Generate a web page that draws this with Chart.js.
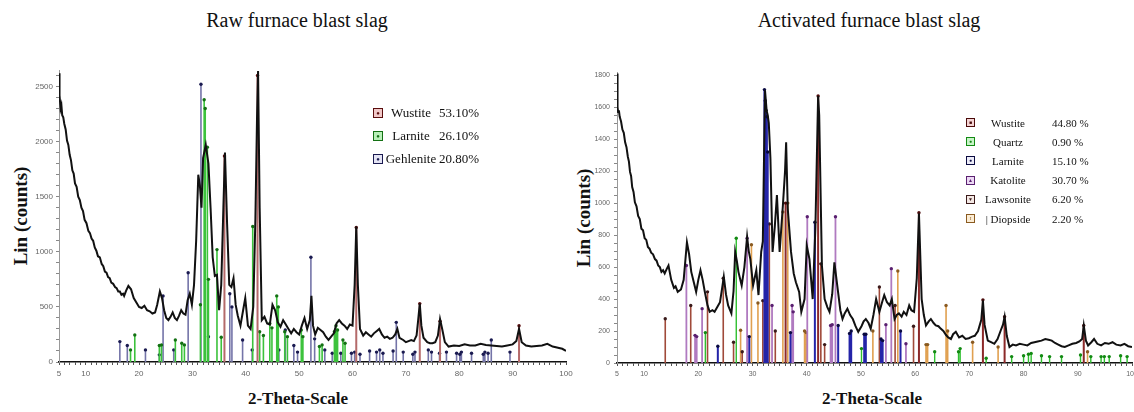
<!DOCTYPE html>
<html>
<head>
<meta charset="utf-8">
<script src="https://cdn.jsdelivr.net/npm/chart.js@4.4.1/dist/chart.umd.min.js"></script>
<style>
  body { margin: 0; background: #fff; width: 1134px; height: 412px; position: relative; overflow: hidden;
         font-family: 'Liberation Serif', 'Times New Roman', serif; color: #111; }
  .panel { position: absolute; top: 0; height: 412px; }
  .panel canvas { position: absolute; left: 0; top: 0; }
  .title { position: absolute; top: 9px; font-size: 20px; white-space: nowrap; transform: translateX(-50%); }
  .xtitle { position: absolute; top: 389px; font-size: 17px; font-weight: bold; white-space: nowrap; transform: translateX(-50%); }
  .ytitle { position: absolute; font-size: 19px; font-weight: bold; white-space: nowrap; transform: translate(-50%, -50%) rotate(-90deg); }
  .legend { position: absolute; }
  .row { position: absolute; left: 0; display: flex; align-items: center; white-space: nowrap; }
  .icon { box-sizing: border-box; border: 1.5px solid; display: flex; align-items: center; justify-content: center; line-height: 1; }
  .name { text-align: center; }
</style>
</head>
<body>

<div class="title" style="left:297px">Raw furnace blast slag</div>
<div class="title" style="left:869px">Activated furnace blast slag</div>
<div class="ytitle" style="left:21px;top:216px">Lin (counts)</div>
<div class="ytitle" style="left:584px;top:218px">Lin (counts)</div>
<div class="xtitle" style="left:298px">2-Theta-Scale</div>
<div class="xtitle" style="left:872px">2-Theta-Scale</div>

<div class="panel" style="left:0;width:590px"><canvas id="raw" width="590" height="412"></canvas></div>
<div class="panel" style="left:567px;width:567px"><canvas id="act" width="567" height="412"></canvas></div>

<div class="legend" id="rawLegend" style="left:373px;top:101px"></div>
<div class="legend" id="actLegend" style="left:966px;top:113px"></div>

<script>
// axis tick labels
const xTicks = [5, 10, 20, 30, 40, 50, 60, 70, 80, 90, 100];
const rawYTicks = [0, 500, 1000, 1500, 2000, 2500];
const actYTicks = [0, 200, 400, 600, 800, 1000, 1200, 1400, 1600, 1800];

// raw slag scan [2theta, counts]
const rawScan = [
  [5.0,2620],[5.1,2420],[5.3,2300],[5.45,2330],[5.6,2240],[5.8,2220],[6.0,2160],[6.25,2110],[6.5,2010],[6.75,1970],
  [7.0,1880],[7.25,1830],[7.5,1740],[7.75,1710],[8.0,1620],[8.3,1590],[8.6,1500],[8.9,1470],[9.2,1400],[9.5,1370],
  [9.8,1290],[10.15,1260],[10.5,1190],[10.8,1170],[11.1,1120],[11.4,1100],[11.7,1040],[12.0,1010],[12.3,960],[12.65,950],
  [13.0,890],[13.3,870],[13.6,820],[13.9,810],[14.2,770],[14.5,760],[14.8,720],[15.15,710],[15.5,680],[15.8,670],
  [16.1,640],[16.4,640],[16.7,610],[17.0,620],[17.2,600],[17.6,650],[18.0,690],[18.5,660],[19.0,580],[19.5,540],
  [20.0,500],[20.5,490],[21.0,510],[21.5,470],[22.0,460],[22.5,440],[23.0,450],[23.4,520],[23.9,640],[24.3,580],
  [24.7,470],[25.1,400],[25.5,380],[25.9,410],[26.3,450],[26.7,400],[27.1,380],[27.5,420],[27.9,470],[28.3,440],
  [28.7,430],[29.1,560],[29.5,620],[29.9,520],[30.3,700],[30.7,1100],[31.1,1700],[31.4,1600],[31.7,1400],[32.0,1850],
  [32.5,1970],[33.0,1800],[33.4,1400],[33.8,950],[34.2,780],[34.6,790],[35.0,470],[35.4,700],[35.8,1400],[36.1,1900],
  [36.5,1250],[36.9,700],[37.3,680],[37.7,760],[38.1,520],[38.5,420],[39.0,330],[39.5,470],[39.9,580],[40.4,330],
  [40.9,300],[41.4,500],[41.8,1300],[42.1,2200],[42.3,2640],[42.6,1400],[43.0,380],[43.5,410],[44.0,350],[44.5,340],
  [45.0,520],[45.5,470],[46.0,360],[46.5,320],[47.0,380],[47.5,340],[48.0,300],[48.5,260],[49.0,300],[49.5,270],
  [50.0,250],[50.5,330],[51.0,400],[51.5,300],[52.0,380],[52.3,600],[52.6,330],[53.0,250],[53.5,310],[54.0,290],
  [54.5,270],[55.0,230],[55.5,200],[56.0,230],[56.5,260],[57.0,350],[57.5,380],[58.0,350],[58.5,330],[59.0,300],
  [59.5,340],[60.0,330],[60.4,700],[60.7,1230],[61.0,700],[61.4,300],[62.0,240],[62.5,270],[63.0,250],[63.5,230],
  [64.0,260],[64.5,280],[65.0,300],[65.5,250],[66.0,220],[66.5,230],[67.0,210],[67.5,220],[68.0,250],[68.4,300],
  [68.8,220],[69.5,200],[70.0,180],[70.5,190],[71.0,200],[71.5,190],[72.0,240],[72.3,380],[72.6,530],[72.9,330],
  [73.3,220],[74.0,180],[74.5,170],[75.0,170],[75.5,180],[76.0,240],[76.4,390],[76.8,300],[77.3,180],[78.0,140],
  [79.0,150],[80.0,145],[81.0,160],[82.0,150],[83.0,150],[84.0,165],[85.0,155],[86.0,150],[87.0,145],[88.0,140],
  [89.0,150],[90.0,160],[90.7,190],[91.2,300],[91.7,180],[92.5,150],[93.5,140],[94.5,145],[95.5,150],[96.5,165],
  [97.5,140],[98.5,130],[99.3,120],[100,100]
];

// raw slag phase reference lines [2theta, height]
const rawWustite = [[36.0,1870],[42.2,2600],[60.7,1220],[72.6,530],[76.4,370],[91.2,330]];
const rawLarnite = [
  [18.4,110],[19.2,245],[23.8,150],[24.2,155],[26.8,200],[28.0,170],[28.5,155],[31.5,520],[32.2,2380],[32.4,2300],
  [32.8,1950],[33.0,750],[34.6,1020],[35.4,225],[41.3,1230],[42.6,275],[43.3,240],[44.5,350],[44.9,310],[45.8,600],
  [46.1,500],[47.3,275],[47.8,230],[50.4,290],[50.7,230],[53.8,140],[54.3,155],[56.6,275],[56.9,330],[57.2,290],
  [58.2,200],[58.6,170]
];
const rawGehlenite = [
  [16.4,185],[17.8,150],[21.2,110],[23.8,65],[24.5,600],[26.5,110],[29.2,810],[31.6,2520],[33.0,230],[37.0,620],
  [37.4,500],[39.4,200],[41.2,110],[46.2,110],[47.4,290],[49.0,150],[49.7,90],[52.2,950],[52.9,210],[54.8,110],
  [56.2,80],[57.8,80],[59.8,80],[60.4,90],[61.4,70],[63.2,100],[64.5,90],[65.1,110],[65.7,80],[67.6,100],
  [68.2,360],[69.5,90],[71.3,70],[71.7,90],[74.2,110],[74.8,90],[76.3,80],[77.6,90],[79.5,80],[80.1,70],
  [80.4,90],[82.3,80],[84.5,70],[84.8,90],[85.4,80],[86.0,200],[89.5,90]
];

// activated slag scan [2theta, counts]
const actScan = [
  [5.0,1810],[5.1,1600],[5.2,1570],[5.35,1580],[5.5,1540],[5.75,1510],[6.0,1460],[6.25,1440],[6.5,1380],[6.75,1350],
  [7.0,1290],[7.2,1260],[7.4,1195],[7.6,1170],[7.8,1100],[8.05,1070],[8.3,1005],[8.6,980],[8.9,920],[9.2,900],
  [9.5,840],[9.8,830],[10.1,780],[10.4,770],[10.7,725],[11.0,715],[11.3,690],[11.65,680],[12.0,650],[12.3,640],
  [12.6,610],[12.9,600],[13.2,570],[13.5,580],[13.8,560],[14.2,590],[14.5,610],[15.0,520],[15.5,470],[15.8,480],
  [16.2,445],[16.8,460],[17.3,520],[17.9,755],[18.3,680],[18.7,570],[19.2,500],[19.6,445],[20.0,520],[20.4,580],
  [20.8,520],[21.2,445],[21.7,360],[22.1,320],[22.6,330],[23.0,320],[23.5,350],[24.0,380],[24.4,470],[24.7,540],
  [25.1,430],[25.5,360],[26.1,310],[26.5,450],[26.8,695],[27.1,640],[27.4,570],[28.0,485],[28.5,600],[29.0,790],
  [29.3,700],[29.6,650],[30.1,485],[30.7,580],[31.1,425],[31.6,695],[31.9,760],[32.3,1705],[32.6,1580],[32.8,1550],
  [33.0,1500],[33.3,1280],[33.7,695],[34.1,850],[34.5,1050],[35.0,695],[35.6,985],[36.0,1200],[36.2,1380],[36.5,965],
  [37.1,695],[37.6,560],[38.0,505],[38.6,445],[39.0,320],[39.6,400],[40.0,735],[40.5,650],[41.1,400],[41.6,850],
  [42.1,1670],[42.3,1550],[42.8,610],[43.3,400],[43.8,350],[44.2,320],[44.7,430],[45.1,630],[45.7,465],[46.2,330],
  [46.6,275],[47.0,310],[47.5,340],[48.0,300],[48.5,275],[49.0,230],[49.5,195],[50.1,230],[50.5,260],[50.9,275],
  [51.4,250],[51.8,215],[52.3,300],[52.8,400],[53.4,320],[53.9,380],[54.3,425],[54.8,380],[55.3,360],[55.7,400],
  [56.2,275],[56.6,300],[57.0,310],[57.5,290],[57.9,320],[58.4,300],[58.9,360],[59.3,330],[59.8,320],[60.3,530],
  [60.7,935],[61.2,400],[61.6,300],[62.0,235],[62.5,260],[62.9,275],[63.4,250],[63.8,235],[64.3,230],[64.7,215],
  [65.2,200],[65.7,175],[66.1,160],[66.6,150],[67.0,180],[67.5,195],[68.1,160],[68.7,170],[69.3,150],[69.9,155],
  [70.5,165],[71.0,170],[71.6,200],[72.2,270],[72.5,390],[72.8,240],[73.4,140],[74.0,130],[74.6,120],[75.2,150],
  [75.8,205],[76.2,240],[76.5,290],[76.9,170],[77.4,100],[78.0,115],[78.6,110],[79.3,120],[80.0,115],[80.7,110],
  [81.4,125],[82.0,130],[82.6,135],[83.3,140],[84.0,150],[84.6,145],[85.2,140],[85.8,125],[86.4,115],[87.0,105],
  [87.6,100],[88.3,110],[89.0,120],[89.7,125],[90.3,135],[90.8,150],[91.1,235],[91.5,140],[91.9,110],[92.5,130],
  [93.0,150],[93.6,120],[94.3,110],[95.0,125],[95.7,120],[96.4,130],[97.1,115],[97.9,110],[98.6,120],[99.3,105],
  [100,100]
];

// activated slag phase reference lines [2theta, height]
const actWustite = [[36.1,1000],[42.1,1670],[60.7,940],[72.5,395],[76.5,290],[91.1,235]];
const actQuartz = [
  [21.3,190],[27.0,780],[50.1,90],[63.6,70],[68.0,70],[68.3,90],[73.1,30],[77.8,40],[80.0,45],[80.9,55],
  [81.4,60],[83.3,45],[84.8,40],[87.0,40],[90.5,50],[92.4,40],[94.3,40],[94.9,40],[95.8,40],[97.9,45],[99.1,40]
];
const actLarnite = [
  [23.6,105],[29.4,165],[32.2,1710],[32.35,1640],[32.5,1580],[32.65,1540],[32.8,1320],[37.0,190],[41.5,880],[45.8,235],
  [47.9,185],[48.2,200],[50.6,180],[50.9,180],[53.7,150],[54.0,140],[57.3,200]
];
const actKatolite = [
  [17.8,610],[19.4,173],[19.7,165],[20.7,340],[29.0,780],[33.6,360],[37.3,360],[37.5,320],[40.1,915],[44.4,235],
  [44.7,240],[45.3,915],[54.6,240],[55.6,590],[58.3,120]
];
const actLawsonite = [
  [13.9,277],[18.6,360],[21.7,445],[24.6,530],[26.5,130],[28.1,70],[31.9,390],[33.1,870],[34.2,200],[42.6,620],
  [43.3,115],[53.4,475],[56.3,360],[59.7,230]
];
const actDiopside = [
  [27.8,205],[29.8,740],[31.0,375],[35.6,945],[36.5,1000],[39.6,200],[39.9,190],[52.2,200],[56.8,575],[62.0,115],
  [62.3,115],[65.7,360],[66.0,200],[70.6,130],[75.3,100],[91.8,70]
];

// legends
const rawPhases = ['Wustite', 'Larnite', 'Gehlenite'];
const rawPercents = ['53.10%', '26.10%', '20.80%'];
const actPhases = ['Wustite', 'Quartz', 'Larnite', 'Katolite', 'Lawsonite', '| Diopside'];
const actPercents = ['44.80 %', '0.90 %', '15.10 %', '30.70 %', '6.20 %', '2.20 %'];

// colours: [line, dot, icon fill, icon symbol]
const rawColors = [
  ['#b46a6a', '#5a0d0d', '#f0c8c8', '●'],
  ['#3cc23c', '#137013', '#b8f0b8', '●'],
  ['#7474a8', '#1a1a50', '#e4e4f4', '●']
];
const actColors = [
  ['#8c2a2a', '#4a0a0a', '#f4d4d4', '■'],
  ['#2fbf2f', '#138a13', '#c8f4c8', '●'],
  ['#2424a8', '#0a0a40', '#ececf8', '●'],
  ['#b07ac0', '#5a2070', '#ecd8f4', '▲'],
  ['#a04a3a', '#3a1a1a', '#f4e8e4', '▼'],
  ['#e0a050', '#8a5a20', '#fbecd4', 'I']
];

function toPoints(list) {
  return list.map(([x, y]) => ({ x, y }));
}
// each reference line: baseline -> top -> gap
function toSticks(list) {
  const out = [];
  list.forEach(([x, h]) => { out.push({ x, y: 0 }, { x, y: h }, { x, y: null }); });
  return out;
}

function stickSet(label, list, col, width) {
  return {
    label: label,
    data: toSticks(list),
    showLine: true,
    spanGaps: false,
    borderColor: col[0],
    borderWidth: width,
    pointRadius: c => (c.raw && c.raw.y > 0) ? 1.7 : 0,
    pointBackgroundColor: col[1],
    pointBorderWidth: 0,
    order: 2
  };
}

function buildChart(id, scan, sets, opt) {
  new Chart(document.getElementById(id), {
    type: 'scatter',
    data: {
      datasets: sets.concat([{
        label: 'scan',
        data: toPoints(scan),
        showLine: true,
        borderColor: '#111',
        borderWidth: 2,
        pointRadius: 0,
        order: 1
      }])
    },
    options: {
      responsive: false,
      animation: false,
      events: [],
      layout: { padding: { top: opt.padTop, right: opt.padRight, left: 0, bottom: 0 } },
      plugins: { legend: { display: false }, tooltip: { enabled: false } },
      scales: {
        x: {
          type: 'linear', min: 5, max: 100,
          afterBuildTicks: s => {
            const t = [];
            for (let v = 5; v <= 100; v++) t.push({ value: v });
            s.ticks = t;
          },
          afterFit: s => { s.height = opt.xHeight; s.paddingLeft = 0; s.paddingRight = 0; },
          border: { color: '#111', width: 1.5 },
          grid: { drawOnChartArea: false, tickLength: 3, tickColor: '#555' },
          ticks: {
            autoSkip: false, maxRotation: 0, padding: 4, color: '#666',
            font: { family: "'Liberation Sans', Arial, sans-serif", size: opt.tickSize },
            callback: v => xTicks.includes(v) ? String(v) : ''
          }
        },
        y: {
          type: 'linear', min: 0, max: opt.yMax,
          afterBuildTicks: s => {
            const t = [];
            for (let v = 0; v <= opt.yMax; v += opt.yMinor) t.push({ value: v });
            s.ticks = t;
          },
          afterFit: s => { s.width = opt.yWidth; s.paddingTop = 0; s.paddingBottom = 0; },
          border: { color: '#999', width: 1 },
          grid: { drawOnChartArea: false, tickLength: 3, tickColor: '#888' },
          ticks: {
            autoSkip: false, padding: opt.yPad, color: '#666',
            font: { family: "'Liberation Sans', Arial, sans-serif", size: opt.tickSize },
            callback: v => opt.yTicks.includes(v) ? String(v) : ''
          }
        }
      }
    }
  });
}

buildChart('raw', rawScan, [
  stickSet('Wustite', rawWustite, rawColors[0], 2),
  stickSet('Larnite', rawLarnite, rawColors[1], 1.6),
  stickSet('Gehlenite', rawGehlenite, rawColors[2], 1.6)
], { padTop: 70, padRight: 24, xHeight: 50, yWidth: 59, yMax: 2650, yMinor: 100, yTicks: rawYTicks, yPad: 3, tickSize: 8 });

buildChart('act', actScan, [
  stickSet('Wustite', actWustite, actColors[0], 2),
  stickSet('Quartz', actQuartz, actColors[1], 1.4),
  stickSet('Larnite', actLarnite, actColors[2], 2),
  stickSet('Katolite', actKatolite, actColors[3], 1.8),
  stickSet('Lawsonite', actLawsonite, actColors[4], 1.6),
  stickSet('Diopside', actDiopside, actColors[5], 1.6)
], { padTop: 72, padRight: 2, xHeight: 49, yWidth: 50, yMax: 1820, yMinor: 50, yTicks: actYTicks, yPad: 4, tickSize: 7 });

// HTML legends
function buildLegend(id, names, pcts, cols, o) {
  const box = document.getElementById(id);
  names.forEach((n, i) => {
    const row = document.createElement('div');
    row.className = 'row';
    row.style.top = (i * o.step) + 'px';
    row.style.height = o.step + 'px';
    row.style.fontSize = o.font + 'px';
    row.innerHTML =
      '<div class="icon" style="width:' + o.icon + 'px;height:' + o.icon + 'px;border-color:' + cols[i][1] +
      ';background:' + cols[i][2] + ';color:' + cols[i][1] + ';font-size:' + (o.icon - 4) + 'px">' + cols[i][3] + '</div>' +
      '<div class="name" style="width:' + o.nameW + 'px;margin-left:' + o.gap + 'px">' + n + '</div>' +
      '<div style="margin-left:' + o.gap2 + 'px">' + pcts[i] + '</div>';
    box.appendChild(row);
  });
}
buildLegend('rawLegend', rawPhases, rawPercents, rawColors, { step: 23, font: 13, icon: 10, nameW: 52, gap: 2, gap2: 2 });
buildLegend('actLegend', actPhases, actPercents, actColors, { step: 19.2, font: 11, icon: 9, nameW: 64, gap: 1, gap2: 12 });
</script>
</body>
</html>
